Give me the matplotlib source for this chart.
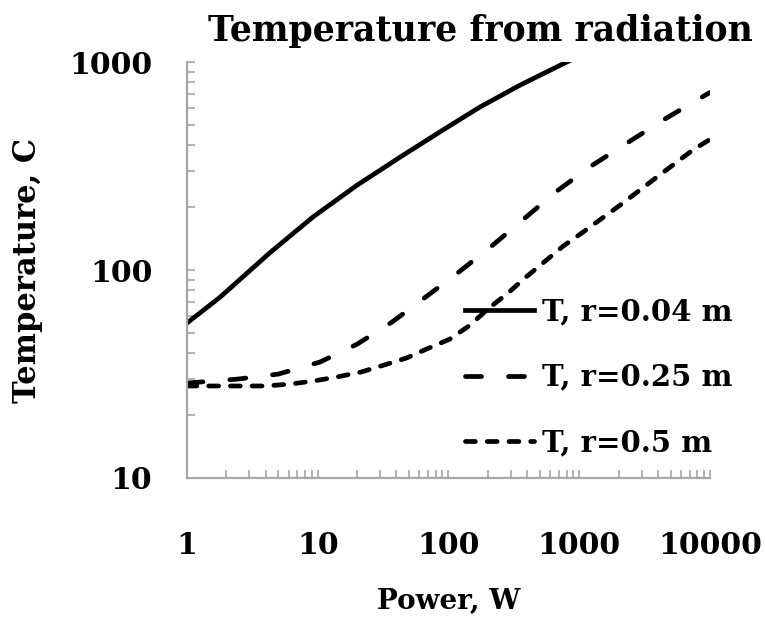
import numpy as np
import matplotlib
matplotlib.use('Agg')
import matplotlib.pyplot as plt

# power (W) and temperature (C)
p_small = [1, 1.79, 4.3, 9.2, 20, 30, 42.6, 88, 174, 353, 800, 1500]
t_small = [55.6, 74, 121, 180, 256, 302, 349, 466, 608, 775, 1000, 1210]

p_mid = [1, 2.45, 5, 10.4, 20, 37, 68.5, 123, 219, 385, 676, 1230, 2320, 4370, 10000]
t_mid = [28.6, 29.9, 31.6, 36.1, 44, 56.2, 75, 99, 132, 178, 240, 316, 408, 526, 715]

p_big = [1, 1.7, 4, 6.2, 9.4, 14, 21.4, 32, 48, 68, 102, 143, 209, 285, 398, 565, 750,
         1050, 2050, 3930, 7400, 10000]
t_big = [27.7, 27.7, 27.7, 28.3, 29.3, 30.6, 32.3, 34.9, 37.8, 41.7, 46.5, 53.8, 66.4,
         77.5, 93.3, 112, 130, 151, 205, 280, 378, 425]

labels = ['T, r=0.04 m', 'T, r=0.25 m', 'T, r=0.5 m']
xticks = [1, 10, 100, 1000, 10000]
yticks = [10, 100, 1000]

plt.rcParams['font.family'] = ['DejaVu Serif']
plt.rcParams['font.weight'] = 'bold'

fig = plt.figure(figsize=(7.65, 6.21), dpi=100)
ax = fig.add_axes([0.2444, 0.2303, 0.6837, 0.6697])

lw = 3.4
ax.plot(p_small, t_small, color='black', lw=lw, label=labels[0])
ax.plot(p_mid, t_mid, color='black', lw=lw, dashes=(3.4, 5.7),
        dash_capstyle='round', label=labels[1])
ax.plot(p_big, t_big, color='black', lw=lw, dashes=(2.1, 2.5),
        dash_capstyle='round', label=labels[2])

ax.set_xscale('log')
ax.set_yscale('log')
ax.set_xlim(1, 10000)
ax.set_ylim(10, 1000)
ax.set_xticks(xticks)
ax.set_xticklabels([str(v) for v in xticks])
ax.set_yticks(yticks)
ax.set_yticklabels([str(v) for v in yticks])

grey = '#a6a6a6'
for s in ['top', 'right']:
    ax.spines[s].set_visible(False)
for s in ['left', 'bottom']:
    ax.spines[s].set_color(grey)
    ax.spines[s].set_linewidth(1.6)
ax.tick_params(which='both', direction='in', color=grey, width=1.2, labelsize=21.5, length=6)
ax.tick_params(axis='y', which='major', pad=25)
ax.tick_params(axis='x', which='major', pad=38)

fig.text(480 / 765, 1 - 41 / 621, 'Temperature from radiation', fontsize=25,
         fontweight='bold', ha='center', va='baseline')
ax.set_xlabel('Power, W', fontsize=20, fontweight='bold', labelpad=20)
ax.set_ylabel('Temperature, C', fontsize=22, fontweight='bold', labelpad=19)

ax.legend(loc='upper left', bbox_to_anchor=(465 / 765, 1 - 297 / 621),
          bbox_transform=fig.transFigure, frameon=False, fontsize=21,
          handlelength=2.35, handletextpad=0.3, labelspacing=1.26,
          borderpad=0, borderaxespad=0)

fig.savefig('out.png', dpi=100)
